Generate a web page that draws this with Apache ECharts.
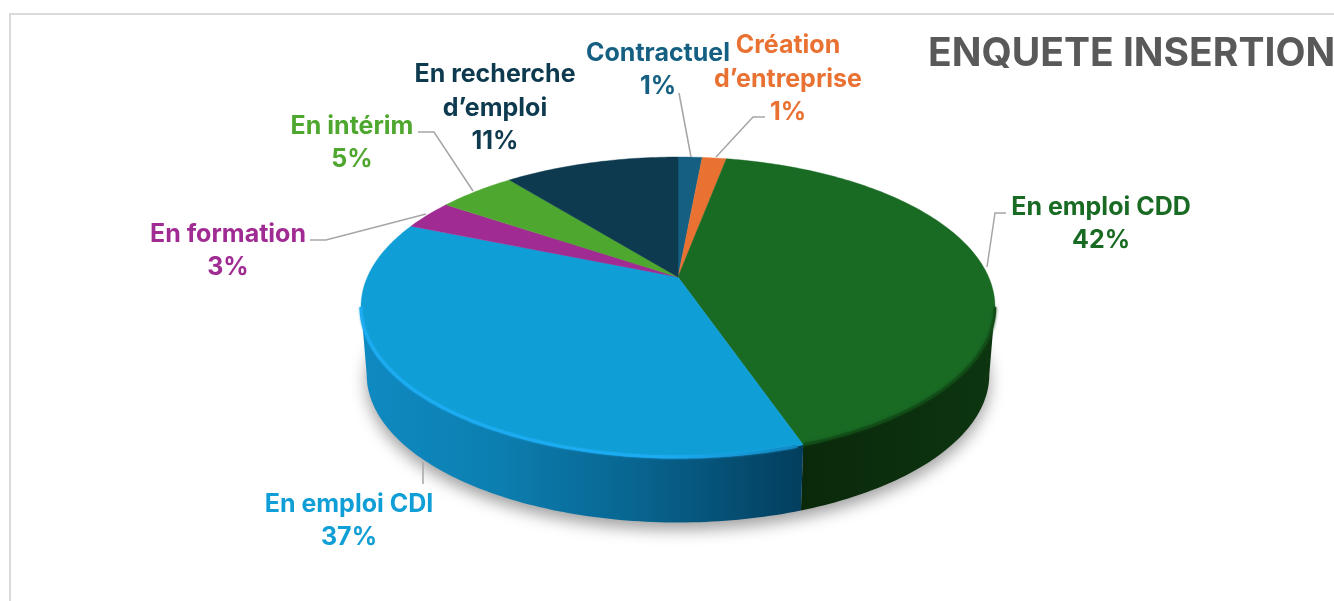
<!DOCTYPE html>
<html>
<head>
<meta charset="utf-8">
<title>Enquete insertion</title>
<script src="https://cdn.jsdelivr.net/npm/echarts@6/dist/echarts.min.js"></script>
<style>
html,body{margin:0;padding:0;background:#fff;overflow:hidden}
#chart{width:1334px;height:601px}
</style>
</head>
<body>
<div id="chart"></div>
<script>
// slices, clockwise from the top of the pie
var names = ['Contractuel', 'Création\nd’entreprise', 'En emploi CDD', 'En emploi CDI', 'En formation', 'En intérim', 'En recherche\nd’emploi'];
var shares = [1.49, 1.49, 41.72, 36.5, 3.2, 4.8, 10.8];
var chartTitle = 'ENQUETE INSERTION';

var faceColors = ['#156082', '#E97132', '#196B24', '#0F9ED5', '#A02B93', '#4EA72E', '#0D3A4E'];
var labelColors = ['#156082', '#E97132', '#196B24', '#0F9ED5', '#A02B93', '#4EA72E', '#0D3A4E'];
var labelCenters = [[658, 70], [788, 79], [1101, 224], [349, 521], [228, 251], [352, 143], [495, 108]];
var leaders = [
    [[679, 93], [691, 157]],
    [[765, 117], [753, 117], [716, 157]],
    [[1006, 213], [995, 213], [987, 267]],
    [[423, 462], [423, 484]],
    [[310, 240], [326, 240], [426, 214]],
    [[418, 132], [434, 132], [473, 191]],
    []
];

// the pie is a circle seen in perspective: top rim and bottom rim
var topRim = {cx: 678, cy: 277, rx: 310.6, ry: 144, p: 0.2};
var bottomRim = {cx: 678, cy: 345, rx: 305, ry: 142, p: 0.2};
var fontName = 'Inter, "Noto Sans", sans-serif';
// angle where the rim turns away, the side is not visible past it
var edgeDeg = Math.acos(-topRim.p) * 180 / Math.PI;

function project(rim, deg) {
    var a = deg * Math.PI / 180;
    var u = Math.sin(a), v = -Math.cos(a);
    var s = 1 / (1 - rim.p * v);
    return [rim.cx + rim.rx * u * s, rim.cy + rim.ry * v * s];
}

function arcPoints(rim, from, to) {
    var pts = [];
    var n = Math.max(2, Math.ceil(Math.abs(to - from)));
    for (var i = 0; i <= n; i++) {
        pts.push(project(rim, from + (to - from) * i / n));
    }
    return pts;
}

var sliceData = [];
var total = 0;
for (var i = 0; i < shares.length; i++) {
    sliceData.push([total, total + shares[i], i]);
    total += shares[i];
}
function toDeg(x) {
    return x / total * 360;
}

var blueWall = new echarts.graphic.LinearGradient(360, 0, 803, 0, [
    {offset: 0, color: '#0f8ac2'},
    {offset: 0.3, color: '#0c7fb1'},
    {offset: 0.62, color: '#086590'},
    {offset: 1, color: '#033e5e'}
], true);
var greenWall = new echarts.graphic.LinearGradient(803, 0, 995, 0, [
    {offset: 0, color: '#0a290b'},
    {offset: 1, color: '#0d3510'}
], true);
var blueRim = new echarts.graphic.LinearGradient(360, 0, 803, 0, [
    {offset: 0, color: '#1cacf2'},
    {offset: 0.7, color: '#1cacf2'},
    {offset: 1, color: '#0f86bd'}
], true);

function renderWall(params, api) {
    var start = Math.max(toDeg(api.value(0)), edgeDeg);
    var end = Math.min(toDeg(api.value(1)), 360 - edgeDeg);
    var idx = api.value(2);
    // only the two big slices have a side that can be seen
    if (idx !== 2 && idx !== 3) {
        return {type: 'group', children: []};
    }
    var pts = arcPoints(topRim, start, end).concat(arcPoints(bottomRim, end, start));
    return {
        type: 'polygon',
        shape: {points: pts},
        style: {fill: idx === 3 ? blueWall : greenWall}
    };
}

function renderShadow(params, api) {
    return {
        type: 'polygon',
        shape: {points: arcPoints(bottomRim, 0, 360)},
        style: {
            fill: '#bbb',
            shadowColor: 'rgba(0,0,0,0.38)',
            shadowBlur: 16,
            shadowOffsetY: 7
        }
    };
}

function renderFace(params, api) {
    var start = toDeg(api.value(0)), end = toDeg(api.value(1)), idx = api.value(2);
    var pts = arcPoints(topRim, start, end);
    pts.push([topRim.cx, topRim.cy]);
    var kids = [{
        type: 'polygon',
        shape: {points: pts},
        style: {fill: faceColors[idx], stroke: faceColors[idx], lineWidth: 0.4}
    }];
    if (idx === 3) {
        kids.push({
            type: 'polyline',
            shape: {points: arcPoints(topRim, 360 - edgeDeg, start + 1)},
            style: {fill: null, stroke: blueRim, lineWidth: 3, shadowColor: '#1cacf2', shadowBlur: 2, opacity: 0.95}
        });
    }
    if (idx === 2) {
        kids.push({
            type: 'polyline',
            shape: {points: arcPoints(topRim, edgeDeg, end)},
            style: {fill: null, stroke: '#124d18', lineWidth: 2.5, shadowColor: '#124d18', shadowBlur: 3}
        });
    }
    return {type: 'group', children: kids};
}

function renderLabel(params, api) {
    var idx = api.value(2);
    var kids = [{
        type: 'text',
        x: labelCenters[idx][0],
        y: labelCenters[idx][1],
        style: {
            text: names[idx] + '\n' + Math.round(shares[idx]) + '%',
            fill: labelColors[idx],
            font: 'bold 25px ' + fontName,
            align: 'center',
            verticalAlign: 'middle',
            lineHeight: 33.5
        }
    }];
    if (leaders[idx].length) {
        kids.push({
            type: 'polyline',
            shape: {points: leaders[idx]},
            style: {fill: null, stroke: '#a6a6a6', lineWidth: 1.5}
        });
    }
    return {type: 'group', children: kids};
}

var myChart = echarts.init(document.getElementById('chart'), null, {renderer: 'canvas'});
var option = {
    backgroundColor: '#fff',
    animation: false,
    graphic: [
        {
            type: 'polyline',
            shape: {points: [[10, 601], [10, 14], [1334, 14]]},
            style: {fill: null, stroke: '#d9d9d9', lineWidth: 2}
        },
        {
            type: 'text',
            x: 928,
            y: 54,
            style: {text: chartTitle, fill: '#595959', font: 'bold 39px ' + fontName, verticalAlign: 'middle'}
        }
    ],
    series: [
        {type: 'custom', coordinateSystem: 'none', z: 1, data: [[0, 0, 0]], renderItem: renderShadow, silent: true},
        {type: 'custom', coordinateSystem: 'none', z: 2, data: sliceData, renderItem: renderWall, silent: true},
        {type: 'custom', coordinateSystem: 'none', z: 3, data: sliceData, renderItem: renderFace, silent: true},
        {type: 'custom', coordinateSystem: 'none', z: 4, data: sliceData, renderItem: renderLabel, silent: true}
    ]
};
myChart.setOption(option);
</script>
</body>
</html>
